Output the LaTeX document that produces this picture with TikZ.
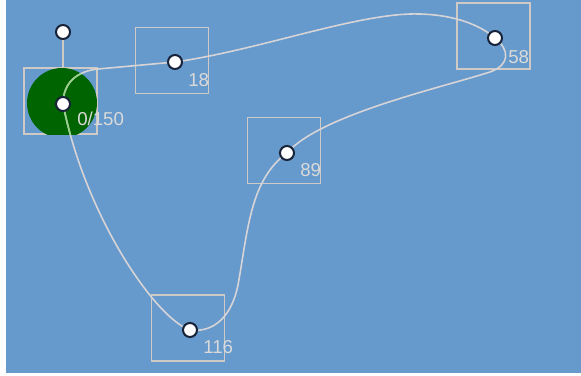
\documentclass[tikz,border=0pt]{standalone}
\usepackage{fontspec}
\setmainfont{Liberation Sans}
\definecolor{bgblue}{RGB}{102,153,204}
\definecolor{boxgray}{RGB}{208,202,198}
\definecolor{trackgray}{RGB}{214,212,214}
\definecolor{trackgreen}{RGB}{150,208,140}
\definecolor{discgreen}{RGB}{0,100,0}
\definecolor{knobedge}{RGB}{24,34,56}
\definecolor{lblgray}{RGB}{218,218,218}

\begin{document}
\begin{tikzpicture}[x=.75pt,y=-.75pt,
  keybox/.style={draw=boxgray,line width=1pt,minimum width=54.75pt,minimum height=49.5pt,inner sep=0pt},
  knob/.style={circle,draw=knobedge,fill=white,line width=1.5pt,minimum size=10.5pt,inner sep=0pt},
  framelbl/.style={anchor=north west,inner sep=0pt,text=lblgray,font=\fontsize{14}{14}\selectfont},
  track/.style={draw=trackgray,line width=1.2pt}]
\path[use as bounding box] (0,0) rectangle (581,375);
\fill[bgblue] (6,0) rectangle (581,373);
% key frames
\node[keybox] (bA) at (60.5,101) {};
\node[keybox] (b18) at (172,60.5) {};
\node[keybox] (b58) at (493.5,36) {};
\node[keybox] (b89) at (284,150.5) {};
\node[keybox] (b116) at (188,328) {};
\coordinate (kAc) at (63,104);
\begin{scope}
\clip (bA.south west) rectangle (bA.north east);
\fill[discgreen] (62,103) circle[radius=35];
\end{scope}
% motion path
\path (kAc) coordinate (kA) (175,62) coordinate (k18) (495,38) coordinate (k58)
  (287,153) coordinate (k89) (190,330) coordinate (k116) (63,32) coordinate (ktop);
\draw[track] (kA) .. controls (63,82) and (78,71) .. (98,69) -- (k18)
  .. controls (260,50) and (360,12) .. (420,14)
  .. controls (455,15) and (480,25) .. (k58)
  .. controls (510,50) and (510,65) .. (490,72)
  .. controls (440,88) and (320,115) .. (k89)
  .. controls (250,180) and (248,230) .. (238,285)
  .. controls (232,315) and (215,333) .. (k116)
  .. controls (155,318) and (85,215) .. (kA);
\begin{scope}
\clip (bA.south west) rectangle (bA.north east);
\clip (62,103) circle[radius=35];
\draw[track,draw=trackgreen] (kA) .. controls (63,82) and (78,71) .. (98,69);
\draw[track,draw=trackgreen] (k116) .. controls (155,318) and (85,215) .. (kA);
\end{scope}
\draw[track,draw=boxgray] (ktop) -- (ktop |- bA.north);
% handles
\node[knob] (nTop) at (ktop) {};
\node[knob] (nA) at (kA) {};
\node[knob] (n18) at (k18) {};
\node[knob] (n58) at (k58) {};
\node[knob] (n89) at (k89) {};
\node[knob] (n116) at (k116) {};
% frame numbers
\node[framelbl] (lA) at ([shift={(14,8)}]kA) {0/150};
\node[framelbl] (l18) at ([shift={(13,11)}]k18) {18};
\node[framelbl] (l58) at ([shift={(13,12)}]k58) {58};
\node[framelbl] (l89) at ([shift={(13,10)}]k89) {89};
\node[framelbl] (l116) at ([shift={(13,10)}]k116) {116};
\end{tikzpicture}
\end{document}
